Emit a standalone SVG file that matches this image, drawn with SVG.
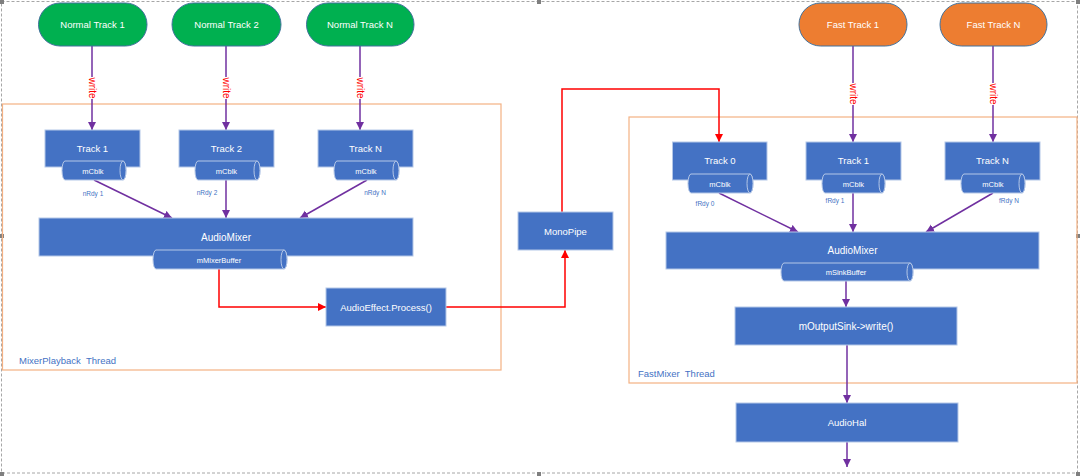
<svg xmlns="http://www.w3.org/2000/svg" width="1080" height="476" viewBox="0 0 1080 476">
<style>
text{font-family:"Liberation Sans",Arial,sans-serif}
.pillG{fill:#00B050;stroke:#41719C;stroke-width:1}
.pillO{fill:#ED7D31;stroke:#41719C;stroke-width:1}
.pt{fill:#FFFFFF;font-size:9.5px;text-anchor:middle;dominant-baseline:central}
.box{fill:#4472C4;stroke:#B4C7E7;stroke-width:1}
.bt{fill:#FFFFFF;font-size:9.5px;text-anchor:middle;dominant-baseline:central}
.cyl{fill:#4472C4;stroke:#B4C7E7;stroke-width:1}
.ct{fill:#FFFFFF;font-size:7.5px;text-anchor:middle;dominant-baseline:central}
.rdy{fill:#4472C4;font-size:6.5px;text-anchor:middle;dominant-baseline:central}
.frame{fill:none;stroke:#F4B183;stroke-width:1.2}
.fl{fill:#4472C4;font-size:9.5px;white-space:pre}
.pc{fill:none;stroke:#7030A0;stroke-width:1.5;marker-end:url(#ap)}
.rc{fill:none;stroke:#FF0000;stroke-width:1.5;marker-end:url(#ar)}
.wr{fill:#FF0000;font-size:10px;text-anchor:middle;dominant-baseline:central}
.sel{fill:none;stroke:#A6A6A6;stroke-width:1;stroke-dasharray:3 2}
.hd{fill:#7F7F7F}
</style>
<defs>
<marker id="ap" markerUnits="userSpaceOnUse" markerWidth="9" markerHeight="9" refX="8" refY="4" orient="auto"><path d="M0,0 L8,4 L0,8 Z" fill="#7030A0"/></marker>
<marker id="ar" markerUnits="userSpaceOnUse" markerWidth="9" markerHeight="9" refX="8" refY="4" orient="auto"><path d="M0,0 L8,4 L0,8 Z" fill="#FF0000"/></marker>
</defs>
<rect width="1080" height="476" fill="#FFFFFF"/>
<g id="selection">
<rect class="sel" x="1.5" y="1.5" width="1076" height="471.5"/>
<rect class="hd" x="0" y="0" width="4" height="4"/>
<rect class="hd" x="537" y="0" width="4" height="4"/>
<rect class="hd" x="1076" y="0" width="4" height="4"/>
<rect class="hd" x="0" y="234" width="4" height="4"/>
<rect class="hd" x="1076" y="234" width="4" height="4"/>
<rect class="hd" x="0" y="472" width="4" height="4"/>
<rect class="hd" x="537" y="472" width="4" height="4"/>
<rect class="hd" x="1076" y="472" width="4" height="4"/>
</g>
<g id="mixerFrame">
<rect class="frame" x="2.5" y="104" width="498.5" height="266"/>
<text class="fl" x="19" y="364">MixerPlayback  Thread</text>
</g>
<g id="fastFrame">
<rect class="frame" x="629" y="117" width="448" height="266"/>
<text class="fl" x="638" y="377">FastMixer  Thread</text>
</g>
<g id="connectors">
<line class="pc" x1="92" y1="46" x2="92" y2="130"/>
<line class="pc" x1="226" y1="46" x2="226" y2="130"/>
<line class="pc" x1="360" y1="46" x2="360" y2="130"/>
<line class="pc" x1="853" y1="46" x2="853" y2="142"/>
<line class="pc" x1="993" y1="46" x2="993" y2="142"/>
<line class="pc" x1="94" y1="180" x2="172" y2="218"/>
<line class="pc" x1="226" y1="180" x2="226" y2="218"/>
<line class="pc" x1="367" y1="180" x2="300" y2="218"/>
<line class="pc" x1="719" y1="193" x2="798" y2="232"/>
<line class="pc" x1="853" y1="193" x2="853" y2="232"/>
<line class="pc" x1="993" y1="193" x2="926" y2="232"/>
<line class="pc" x1="846" y1="281" x2="846" y2="307"/>
<line class="pc" x1="847" y1="345" x2="847" y2="403"/>
<line class="pc" x1="847" y1="442" x2="847" y2="467"/>
<polyline class="rc" points="219,269 219,307 326,307"/>
<polyline class="rc" points="446,307 565,307 565,250"/>
<polyline class="rc" points="562,212 562,89 719,89 719,142"/>
<rect x="88" y="77" width="8" height="22" fill="#FFFFFF"/>
<rect x="222" y="77" width="8" height="22" fill="#FFFFFF"/>
<rect x="356" y="77" width="8" height="22" fill="#FFFFFF"/>
<rect x="849" y="83" width="8" height="22" fill="#FFFFFF"/>
<rect x="989" y="83" width="8" height="22" fill="#FFFFFF"/>
<text class="wr" transform="translate(92,88) rotate(90)">write</text>
<text class="wr" transform="translate(226,88) rotate(90)">write</text>
<text class="wr" transform="translate(360,88) rotate(90)">write</text>
<text class="wr" transform="translate(853,94) rotate(90)">write</text>
<text class="wr" transform="translate(993,94) rotate(90)">write</text>
<text class="rdy" x="93" y="193">nRdy 1</text>
<text class="rdy" x="207" y="192">nRdy 2</text>
<text class="rdy" x="375" y="192">nRdy N</text>
<text class="rdy" x="705" y="203">fRdy 0</text>
<text class="rdy" x="835" y="200">fRdy 1</text>
<text class="rdy" x="1009" y="200">fRdy N</text>
</g>
<g id="normalTrack1"><rect class="pillG" x="38.5" y="3" width="108.5" height="43" rx="21.5"/><text class="pt" x="92.5" y="24.5">Normal Track 1</text></g>
<g id="normalTrack2"><rect class="pillG" x="172" y="3" width="109" height="43" rx="21.5"/><text class="pt" x="226.5" y="24.5">Normal Track 2</text></g>
<g id="normalTrackN"><rect class="pillG" x="306.5" y="3" width="107.5" height="43" rx="21.5"/><text class="pt" x="360" y="24.5">Normal Track N</text></g>
<g id="fastTrack1"><rect class="pillO" x="799" y="3" width="108" height="43" rx="21.5"/><text class="pt" x="853" y="24.5">Fast Track 1</text></g>
<g id="fastTrackN"><rect class="pillO" x="940" y="3" width="107" height="43" rx="21.5"/><text class="pt" x="993.5" y="24.5">Fast Track N</text></g>
<g id="track1"><rect class="box" x="45" y="130" width="95" height="37"/><text class="bt" x="92.5" y="148">Track 1</text>
<path class="cyl" d="M65,161 H123 A3,9.5 0 0 1 123,180 H65 A3,9.5 0 0 1 65,161 Z"/><ellipse class="cyl" cx="123" cy="170.5" rx="3" ry="9.5"/><text class="ct" x="93" y="171">mCblk</text></g>
<g id="track2"><rect class="box" x="179" y="130" width="95" height="37"/><text class="bt" x="226.5" y="148">Track 2</text>
<path class="cyl" d="M198,161 H257 A3,9.5 0 0 1 257,180 H198 A3,9.5 0 0 1 198,161 Z"/><ellipse class="cyl" cx="257" cy="170.5" rx="3" ry="9.5"/><text class="ct" x="226.5" y="171">mCblk</text></g>
<g id="trackN"><rect class="box" x="318" y="130" width="95" height="37"/><text class="bt" x="365.5" y="148">Track N</text>
<path class="cyl" d="M337,161 H396 A3,9.5 0 0 1 396,180 H337 A3,9.5 0 0 1 337,161 Z"/><ellipse class="cyl" cx="396" cy="170.5" rx="3" ry="9.5"/><text class="ct" x="366" y="171">mCblk</text></g>
<g id="audioMixerL"><rect class="box" x="39" y="218" width="374" height="38"/><text class="bt" x="226" y="237" style="font-size:10px">AudioMixer</text>
<path class="cyl" d="M156,250 H284 A3,9.5 0 0 1 284,269 H156 A3,9.5 0 0 1 156,250 Z"/><ellipse class="cyl" cx="284" cy="259.5" rx="3" ry="9.5"/><text class="ct" x="219" y="260">mMixerBuffer</text></g>
<g id="audioEffect"><rect class="box" x="326" y="288" width="120" height="38"/><text class="bt" x="386" y="307">AudioEffect.Process()</text></g>
<g id="monoPipe"><rect class="box" x="518" y="212" width="95" height="38"/><text class="bt" x="565.5" y="231">MonoPipe</text></g>
<g id="track0F"><rect class="box" x="672.5" y="142" width="94.5" height="38"/><text class="bt" x="720" y="160">Track 0</text>
<path class="cyl" d="M691,174 H750 A3,9.5 0 0 1 750,193 H691 A3,9.5 0 0 1 691,174 Z"/><ellipse class="cyl" cx="750" cy="183.5" rx="3" ry="9.5"/><text class="ct" x="720" y="184">mCblk</text></g>
<g id="track1F"><rect class="box" x="806" y="142" width="95" height="38"/><text class="bt" x="853.5" y="160">Track 1</text>
<path class="cyl" d="M825,174 H882 A3,9.5 0 0 1 882,193 H825 A3,9.5 0 0 1 825,174 Z"/><ellipse class="cyl" cx="882" cy="183.5" rx="3" ry="9.5"/><text class="ct" x="853.5" y="184">mCblk</text></g>
<g id="trackNF"><rect class="box" x="945" y="142" width="95" height="38"/><text class="bt" x="992.5" y="160">Track N</text>
<path class="cyl" d="M964,174 H1022 A3,9.5 0 0 1 1022,193 H964 A3,9.5 0 0 1 964,174 Z"/><ellipse class="cyl" cx="1022" cy="183.5" rx="3" ry="9.5"/><text class="ct" x="993" y="184">mCblk</text></g>
<g id="audioMixerF"><rect class="box" x="666" y="232" width="373" height="37"/><text class="bt" x="852.5" y="250" style="font-size:10px">AudioMixer</text>
<path class="cyl" d="M784,263 H910 A3,9 0 0 1 910,281 H784 A3,9 0 0 1 784,263 Z"/><ellipse class="cyl" cx="910" cy="272" rx="3" ry="9"/><text class="ct" x="846" y="272.5">mSinkBuffer</text></g>
<g id="outputSink"><rect class="box" x="735" y="307" width="222" height="38"/><text class="bt" x="846" y="326" style="font-size:10px">mOutputSink-&gt;write()</text></g>
<g id="audioHal"><rect class="box" x="736" y="403" width="222" height="39"/><text class="bt" x="847" y="422.5">AudioHal</text></g>
</svg>
